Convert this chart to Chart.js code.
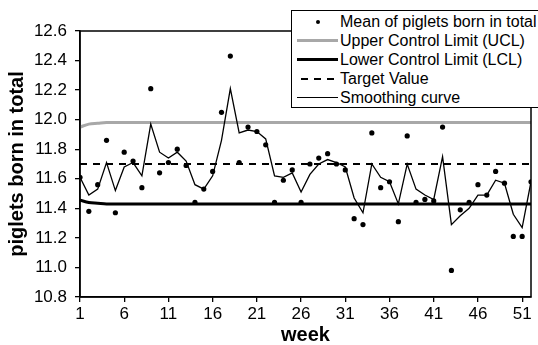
<!DOCTYPE html>
<html lang="en">
<head>
  <meta charset="UTF-8">
  <title>Piglets born in total</title>
  <script src="https://cdn.jsdelivr.net/npm/chart.js"></script>
  <style>
    body { margin: 0; background: #fff; }
    #wrap { position: relative; width: 538px; height: 345px; }
    #legend {
      position: absolute; left: 291px; top: 10px; width: 260px; height: 98px;
      border: 1.5px solid #000; background: #fff; box-sizing: border-box;
      font-family: 'Liberation Sans', Arial, sans-serif; font-size: 16px; color: #000;
      padding-top: 1px;
    }
    .row { height: 19px; line-height: 19px; display: flex; align-items: center; }
    .key { width: 41px; margin-left: 5px; margin-right: 2px; display: flex; justify-content: center; align-items: center; }
    .dot { width: 4px; height: 4px; border-radius: 50%; background: #000; }
    .ln { width: 41px; height: 0; }
    .dash { width: 7px; height: 2px; background: #000; margin: 0 3px; }
  </style>
</head>
<body>
<div id="wrap">
  <canvas id="myChart" width="538" height="345"></canvas>
  <div id="legend">
    <div class="row"><span class="key"><span class="dot"></span></span>Mean of piglets born in total</div>
    <div class="row"><span class="key"><span class="ln" style="border-top:3px solid #a8a8a8"></span></span>Upper Control Limit (UCL)</div>
    <div class="row"><span class="key"><span class="ln" style="border-top:3px solid #000"></span></span>Lower Control Limit (LCL)</div>
    <div class="row"><span class="key"><span class="dash"></span><span class="dash"></span><span class="dash"></span></span>Target Value</div>
    <div class="row"><span class="key"><span class="ln" style="border-top:1.3px solid #000"></span></span>Smoothing curve</div>
  </div>
</div>

<script>
  const weeks = [1, 2, 3, 4, 5, 6, 7, 8, 9, 10, 11, 12, 13, 14, 15, 16, 17, 18, 19, 20,
    21, 22, 23, 24, 25, 26, 27, 28, 29, 30, 31, 32, 33, 34, 35, 36, 37, 38, 39, 40,
    41, 42, 43, 44, 45, 46, 47, 48, 49, 50, 51, 52];
  const meanValues = [11.61, 11.38, 11.56, 11.86, 11.37, 11.78, 11.72, 11.54, 12.21, 11.64,
    11.71, 11.80, 11.69, 11.44, 11.53, 11.65, 12.05, 12.43, 11.71, 11.95,
    11.92, 11.83, 11.44, 11.59, 11.66, 11.44, 11.70, 11.74, 11.77, 11.70,
    11.66, 11.33, 11.29, 11.91, 11.54, 11.58, 11.31, 11.89, 11.44, 11.46,
    11.45, 11.95, 10.98, 11.39, 11.44, 11.56, 11.49, 11.65, 11.57, 11.21,
    11.21, 11.58];
  const smoothValues = [11.61, 11.49, 11.53, 11.71, 11.52, 11.68, 11.71, 11.62, 11.97, 11.78,
    11.74, 11.78, 11.72, 11.56, 11.53, 11.62, 11.86, 12.21, 11.91, 11.93,
    11.92, 11.87, 11.62, 11.61, 11.64, 11.51, 11.63, 11.70, 11.73, 11.71,
    11.68, 11.47, 11.37, 11.70, 11.61, 11.58, 11.43, 11.70, 11.53, 11.49,
    11.46, 11.75, 11.29, 11.35, 11.40, 11.49, 11.49, 11.59, 11.57, 11.36,
    11.27, 11.58];
  const uclWeeks = [1, 2, 3, 4, 52];
  const uclValues = [11.95, 11.97, 11.975, 11.98, 11.98];
  const lclWeeks = [1, 2, 3, 4, 52];
  const lclValues = [11.455, 11.44, 11.435, 11.43, 11.43];
  const targetWeeks = [1, 52];
  const targetValues = [11.70, 11.70];
  const weekTicks = [1, 6, 11, 16, 21, 26, 31, 36, 41, 46, 51];
  const yTicks = [10.8, 11.0, 11.2, 11.4, 11.6, 11.8, 12.0, 12.2, 12.4, 12.6];

  const pts = (xs, ys) => xs.map((x, i) => ({ x: x, y: ys[i] }));

  // frame around the plot area
  const frame = {
    id: 'frame',
    afterDatasetsDraw(chart) {
      const a = chart.chartArea, c = chart.ctx;
      c.save();
      c.strokeStyle = '#000';
      c.lineWidth = 1.5;
      c.strokeRect(a.left, a.top, a.right - a.left, a.bottom - a.top);
      c.restore();
    }
  };

  const ctx = document.getElementById('myChart').getContext('2d');
  const font = "'Liberation Sans', Arial, sans-serif";

  new Chart(ctx, {
    type: 'line',
    data: {
      datasets: [
        {
          label: 'Mean of piglets born in total',
          data: pts(weeks, meanValues),
          showLine: false,
          pointRadius: 2.6,
          pointBackgroundColor: '#000',
          pointBorderWidth: 0,
          order: 0
        },
        {
          label: 'Upper Control Limit (UCL)',
          data: pts(uclWeeks, uclValues),
          borderColor: '#a8a8a8',
          borderWidth: 3,
          pointRadius: 0,
          cubicInterpolationMode: 'monotone',
          order: 3
        },
        {
          label: 'Lower Control Limit (LCL)',
          data: pts(lclWeeks, lclValues),
          borderColor: '#000',
          borderWidth: 3,
          pointRadius: 0,
          cubicInterpolationMode: 'monotone',
          order: 3
        },
        {
          label: 'Target Value',
          data: pts(targetWeeks, targetValues),
          borderColor: '#000',
          borderWidth: 2,
          borderDash: [7, 6],
          pointRadius: 0,
          order: 2
        },
        {
          label: 'Smoothing curve',
          data: pts(weeks, smoothValues),
          borderColor: '#000',
          borderWidth: 1.3,
          pointRadius: 0,
          tension: 0,
          order: 1
        }
      ]
    },
    options: {
      responsive: false,
      animation: false,
      layout: { padding: { top: 31, right: 7, left: 5, bottom: 0 } },
      plugins: {
        legend: { display: false },
        tooltip: { enabled: false }
      },
      scales: {
        x: {
          type: 'linear',
          min: 1,
          max: 52,
          afterBuildTicks: (s) => { s.ticks = weekTicks.map(v => ({ value: v })); },
          afterFit: (s) => { s.height = 48; },
          grid: { drawOnChartArea: false, color: '#000', tickLength: 5, lineWidth: 1.3 },
          border: { color: '#000', width: 1.5 },
          ticks: { color: '#000', font: { family: font, size: 17 }, padding: 2, maxRotation: 0 },
          title: { display: true, text: 'week', color: '#000', font: { family: font, size: 20, weight: 'bold', lineHeight: 1.0 }, padding: { top: 0, bottom: 0 } }
        },
        y: {
          min: 10.8,
          max: 12.6,
          afterBuildTicks: (s) => { s.ticks = yTicks.map(v => ({ value: v })); },
          afterFit: (s) => { s.width = 75; },
          grid: { drawOnChartArea: false, color: '#000', tickLength: 5, lineWidth: 1.3 },
          border: { color: '#000', width: 1.5 },
          ticks: { color: '#000', font: { family: font, size: 17 }, padding: 8, callback: (v) => v.toFixed(1) },
          title: { display: true, text: 'piglets born in total', color: '#000', font: { family: font, size: 20, weight: 'bold' }, padding: { top: 0, bottom: 0 } }
        }
      }
    },
    plugins: [frame]
  });
</script>
</body>
</html>
